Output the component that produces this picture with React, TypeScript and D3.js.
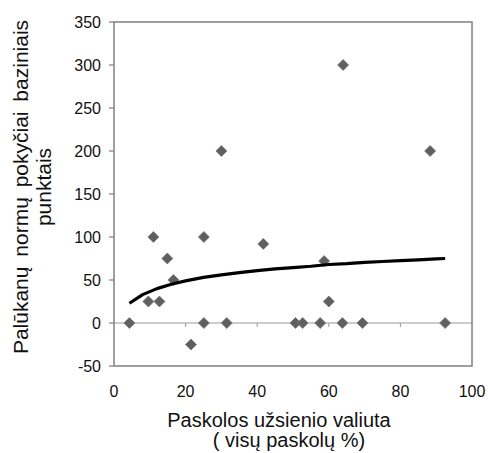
import React from "react";
import * as d3 from "d3";

const pointsX = [4.3, 9.6, 11, 12.7, 14.9, 16.6, 21.5, 25.1, 25.1, 30, 31.5, 41.7, 50.7, 52.7, 57.6, 58.7, 60, 63.8, 64, 69.4, 88.3, 92.5];
const pointsY = [0, 25, 100, 25, 75, 50, -25, 100, 0, 200, 0, 92, 0, 0, 0, 72, 25, 0, 300, 0, 200, 0];

const trendX = [4.3, 8, 12, 16, 20, 25, 30, 35, 40, 45, 50, 55, 60, 65, 70, 75, 80, 85, 90, 92.5];
const trendY = [23, 33, 40, 45, 49, 53, 56, 58.5, 61, 63, 64.5, 66, 68, 69, 70.5, 71.5, 72.5, 73.5, 74.5, 75];

const xTicks = [0, 20, 40, 60, 80, 100];
const yTicks = [-50, 0, 50, 100, 150, 200, 250, 300, 350];

const xTitle = ["Paskolos užsienio valiuta", "( visų paskolų %)"];
const yTitle = ["Palūkanų normų pokyčiai baziniais", "punktais"];

export default function App() {
  const W = 488, H = 453;
  const left = 114, right = 472, top = 22, bottom = 366;
  const x = d3.scaleLinear().domain([0, 100]).range([left, right]);
  const y = d3.scaleLinear().domain([-50, 350]).range([bottom, top]);
  const font = "Liberation Sans, Arial, sans-serif";
  const line = d3.line<number>().x((_, i) => x(trendX[i])).y((d) => y(d));
  const diamond = (cx: number, cy: number, r: number) =>
    `M${cx},${cy - r}L${cx + r},${cy}L${cx},${cy + r}L${cx - r},${cy}Z`;
  return (
    <svg width={W} height={H} style={{ position: "absolute", left: 0, top: 0 }}>
      <rect x={0} y={0} width={W} height={H} fill="#fff" />
      <line x1={left} x2={right} y1={y(0)} y2={y(0)} stroke="#999" strokeWidth={1} />
      {xTicks.slice(1, -1).map((t) => (
        <line key={t} x1={x(t)} x2={x(t)} y1={y(0)} y2={y(0) + 4} stroke="#999" strokeWidth={1} />
      ))}
      <rect x={left} y={top} width={right - left} height={bottom - top} fill="none" stroke="#808080" strokeWidth={1.5} />
      {yTicks.map((t) => (
        <g key={t}>
          <line x1={left - 5} x2={left} y1={y(t)} y2={y(t)} stroke="#808080" strokeWidth={1.2} />
          <text x={101} y={y(t)} dy="0.36em" textAnchor="end" fontFamily={font} fontSize={16} fill="#111">
            {t}
          </text>
        </g>
      ))}
      {xTicks.map((t) => (
        <text key={t} x={x(t)} y={397} textAnchor="middle" fontFamily={font} fontSize={16} fill="#111">
          {t}
        </text>
      ))}
      {pointsX.map((px, i) => (
        <path key={i} d={diamond(x(px), y(pointsY[i]), 5.5)} fill="#5f5f5f" stroke="#777" strokeWidth={0.8} />
      ))}
      <path d={line(trendY) || ""} fill="none" stroke="#000" strokeWidth={3.2} strokeLinejoin="round" />
      <text x={279} y={427} textAnchor="middle" fontFamily={font} fontSize={20} fill="#111">
        {xTitle[0]}
      </text>
      <text x={289} y={447} textAnchor="middle" fontFamily={font} fontSize={20} fill="#111">
        {xTitle[1]}
      </text>
      <g transform={`translate(28, 187) rotate(-90)`}>
        <text x={0} y={0} textAnchor="middle" fontFamily={font} fontSize={21} wordSpacing={4} fill="#111">
          {yTitle[0]}
        </text>
        <text x={0} y={23} textAnchor="middle" fontFamily={font} fontSize={21} fill="#111">
          {yTitle[1]}
        </text>
      </g>
    </svg>
  );
}
